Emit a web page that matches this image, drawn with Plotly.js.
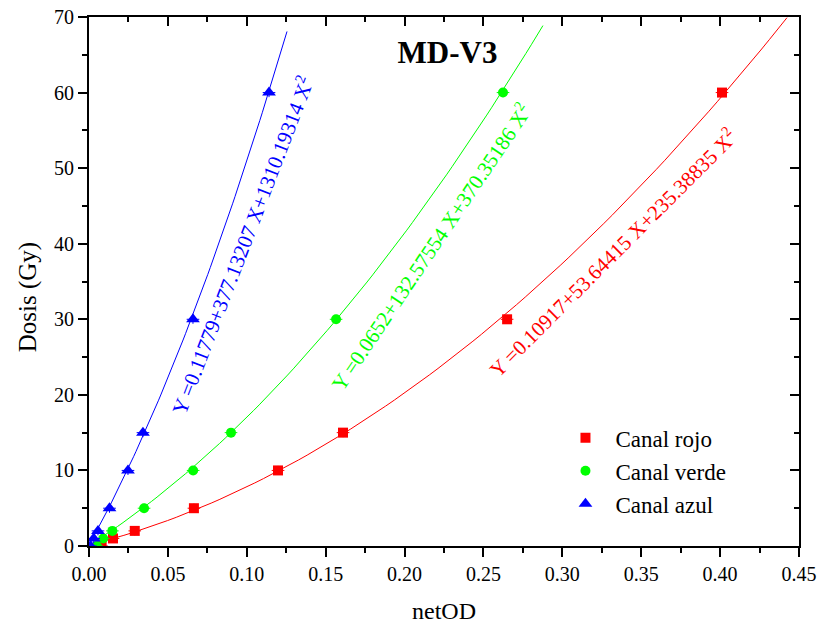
<!DOCTYPE html>
<html><head><meta charset="utf-8">
<script src="https://cdn.plot.ly/plotly-3.0.1.min.js"></script>
<style>body{margin:0;padding:0;background:#fff}#chart{width:818px;height:629px}</style>
</head><body><div id="chart"></div>
<script>
// Data
const dosis = [0, 1, 2, 5, 10, 15, 30, 60];
const netODRojo  = [0.008, 0.0152, 0.029, 0.0665, 0.1198, 0.161, 0.265, 0.4012];
const netODVerde = [0.005, 0.009, 0.0148, 0.0349, 0.066, 0.090, 0.1566, 0.2624];
const netODAzul  = [0.001, 0.003, 0.0057, 0.0130, 0.0247, 0.0342, 0.0659, 0.1141];
// Fit coefficients printed on the chart: Y = a + b X + c X^2
const coefRojo  = [0.10917, 53.64415, 235.38835];
const coefVerde = [0.0652, 132.57554, 370.35186];
const coefAzul  = [0.11779, 377.13207, 1310.19314];
const fitMaxX = {rojo: 0.4424, verde: 0.2877, azul: 0.1255};
const seriesNames = ['Canal rojo', 'Canal verde', 'Canal azul'];
const eqLabels = [
  'Y =0.10917+53.64415 X+235.38835 X<sup>2</sup>',
  'Y =0.0652+132.57554 X+370.35186 X<sup>2</sup>',
  'Y =0.11779+377.13207 X+1310.19314 X<sup>2</sup>'
];

const FONT = 'Liberation Serif';
function fitCurve(c, xmax) {
  const xs = [], ys = [];
  const n = 80;
  for (let i = 0; i <= n; i++) {
    const x = xmax * i / n;
    xs.push(x); ys.push(c[0] + c[1]*x + c[2]*x*x);
  }
  return {xs, ys};
}
const colors = ['#ff0000', '#00ff00', '#0000ff'];
const symbols = ['square', 'circle', 'triangle-up'];
const msizes = [10, 10, 12];
const xsets = [netODRojo, netODVerde, netODAzul];
const coefs = [coefRojo, coefVerde, coefAzul];
const maxes = [fitMaxX.rojo, fitMaxX.verde, fitMaxX.azul];

const traces = [];
for (let k = 0; k < 3; k++) {
  const f = fitCurve(coefs[k], maxes[k]);
  traces.push({x: f.xs, y: f.ys, mode: 'lines', line: {color: colors[k], width: 1},
    showlegend: false, hoverinfo: 'skip'});
}
for (let k = 0; k < 3; k++) {
  traces.push({x: xsets[k], y: dosis, mode: 'markers', name: seriesNames[k],
    marker: {color: colors[k], symbol: symbols[k], size: msizes[k], line: {width: 0}},
    error_x: {type: 'constant', value: 0.004, color: colors[k], thickness: 1, width: 0},
    error_y: {type: 'constant', value: 0.6, color: colors[k], thickness: 1, width: 0}});
}
traces.push({x: [0], y: [0], xaxis: 'x2', yaxis: 'y2', mode: 'markers',
  marker: {opacity: 0}, showlegend: false, hoverinfo: 'skip'});

const axBase = {showline: true, linecolor: '#000', linewidth: 2, showgrid: false,
  zeroline: false, ticklen: 9, tickwidth: 2, tickcolor: '#000',
  tickfont: {family: FONT, size: 20, color: '#000'}};

const layout = {
  width: 818, height: 629,
  margin: {l: 89, r: 19, t: 17, b: 83},
  paper_bgcolor: '#fff', plot_bgcolor: '#fff',
  font: {family: FONT, color: '#000'},
  title: {text: '<b>MD-V3</b>', font: {family: FONT, size: 31, color: '#000'},
    xref: 'paper', yref: 'paper', x: 0.505, y: 0.934, xanchor: 'center', yanchor: 'middle'},
  xaxis: Object.assign({}, axBase, {range: [0, 0.45], dtick: 0.05, tick0: 0, tickformat: '.2f',
    ticks: 'outside', minor: {dtick: 0.025, ticklen: 5, tickwidth: 2, ticks: 'outside', tickcolor: '#000'},
    title: {text: 'netOD', font: {family: FONT, size: 24, color: '#000'}, standoff: 18}}),
  yaxis: Object.assign({}, axBase, {range: [0, 70], dtick: 10, tick0: 0,
    ticks: 'outside', minor: {dtick: 5, ticklen: 5, tickwidth: 2, ticks: 'outside', tickcolor: '#000'}}),
  xaxis2: Object.assign({}, axBase, {overlaying: 'x', side: 'top', range: [0, 0.45], dtick: 0.05,
    ticks: 'inside', showticklabels: false,
    minor: {dtick: 0.025, ticklen: 5, tickwidth: 2, ticks: 'inside', tickcolor: '#000'}}),
  yaxis2: Object.assign({}, axBase, {overlaying: 'y', side: 'right', range: [0, 70], dtick: 10,
    ticks: 'inside', showticklabels: false,
    minor: {dtick: 5, ticklen: 5, tickwidth: 2, ticks: 'inside', tickcolor: '#000'}}),
  legend: {x: 0.657, y: 0.245, xanchor: 'left', yanchor: 'top', bgcolor: 'rgba(0,0,0,0)',
    font: {family: FONT, size: 23, color: '#000'}, itemwidth: 50},
  annotations: [
    {x: 0.332, y: 38.8, text: eqLabels[0], textangle: -45},
    {x: 0.2168, y: 39.6, text: eqLabels[1], textangle: -56},
    {x: 0.0968, y: 39.8, text: eqLabels[2], textangle: -69}
  ].map((a, i) => Object.assign(a, {xref: 'x', yref: 'y', showarrow: false,
    font: {family: FONT, size: 21, color: colors[i]}})).concat([
    {xref: 'paper', yref: 'paper', x: -0.086, y: 0.47, text: 'Dosis (Gy)', textangle: -90,
     showarrow: false, xanchor: 'center', yanchor: 'middle',
     font: {family: FONT, size: 25, color: '#000'}}
  ])
};

Plotly.newPlot('chart', traces, layout, {staticPlot: true, displayModeBar: false});
</script></body></html>
